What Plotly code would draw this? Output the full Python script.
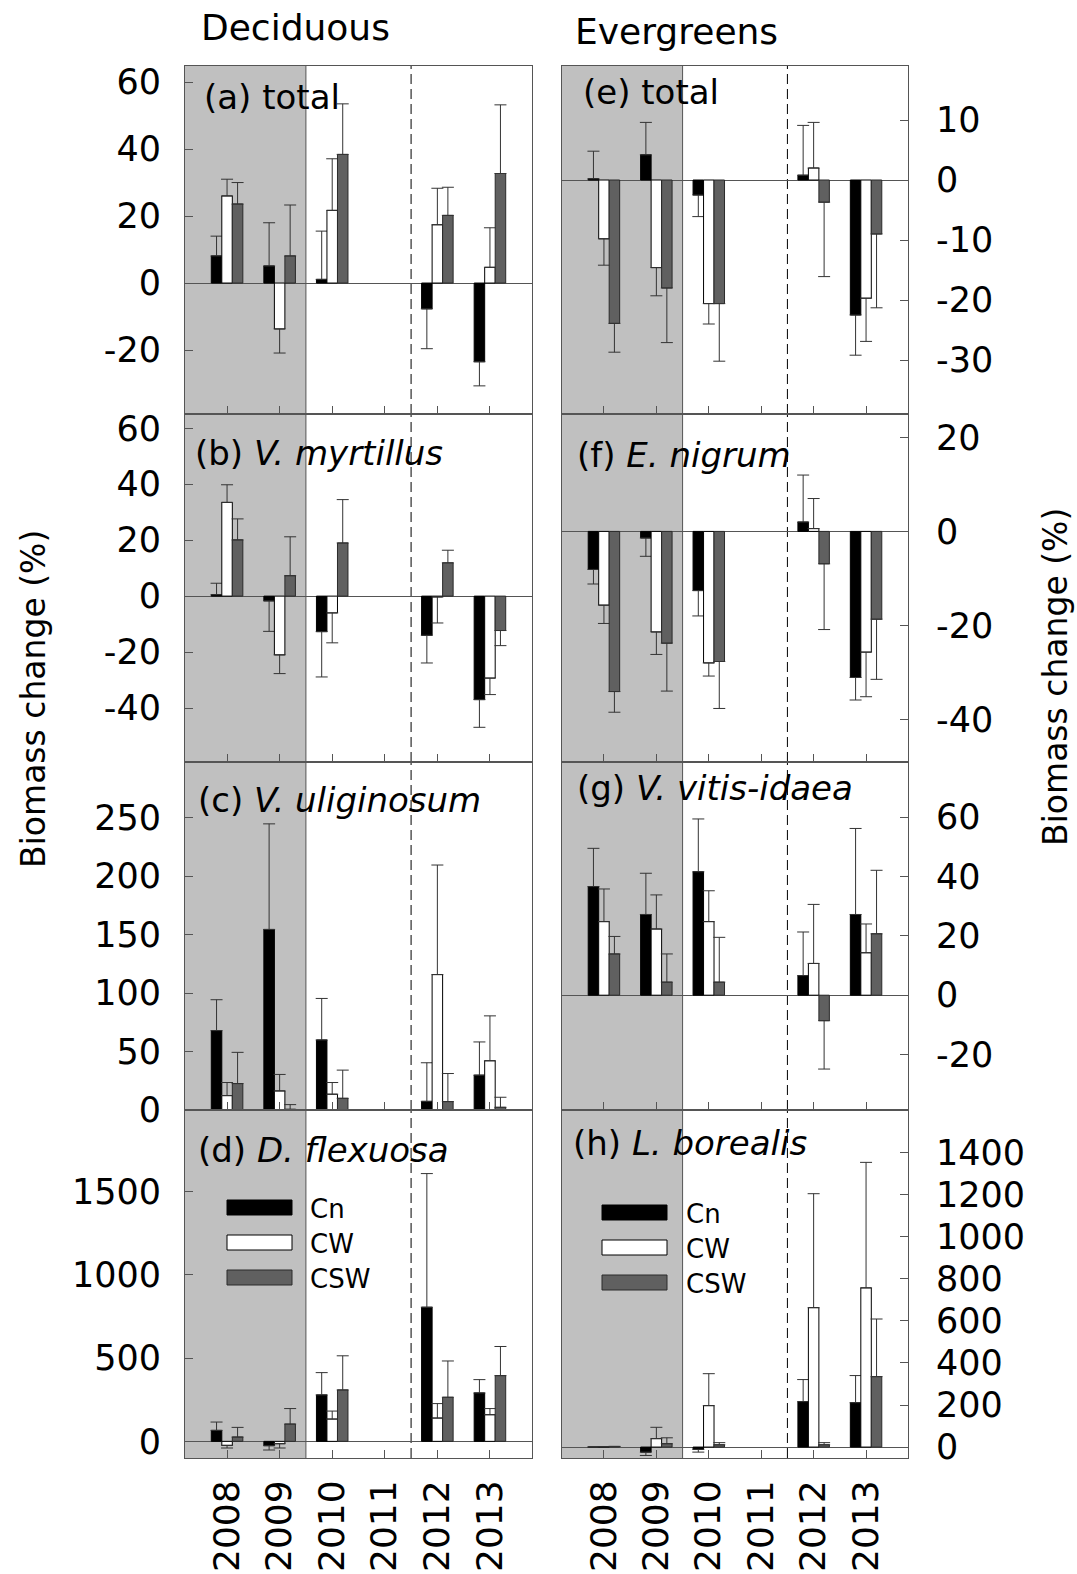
import plotly.graph_objects as go

# ---------------- data ----------------
years = ["2008", "2009", "2010", "2011", "2012", "2013"]
treatments = ["Cn", "CW", "CSW"]

# Deciduous
a_cn = [8.1, 5.1, 1.1, None, -7.7, -23.5]
a_cn_se = [5.9, 12.9, 14.4, None, 11.9, 7.2]
a_cw = [26.0, -13.7, 21.7, None, 17.4, 4.7]
a_cw_se = [5.0, 7.2, 15.4, None, 10.9, 11.8]
a_csw = [23.6, 8.1, 38.4, None, 20.2, 32.7]
a_csw_se = [6.4, 15.2, 15.1, None, 8.4, 20.5]

b_cn = [0.5, -1.7, -12.7, None, -14.0, -37.0]
b_cn_se = [4.1, 10.9, 16.2, None, 9.9, 9.9]
b_cw = [33.5, -21.0, -6.0, None, -0.3, -29.3]
b_cw_se = [6.3, 6.7, 10.7, None, 9.3, 5.9]
b_csw = [20.1, 7.3, 19.0, None, 11.9, -12.3]
b_csw_se = [7.5, 13.9, 15.5, None, 4.5, 5.4]

c_cn = [67.9, 154.4, 59.9, None, 7.4, 29.8]
c_cn_se = [26.4, 90.3, 35.5, None, 33.0, 28.4]
c_cw = [12.3, 16.3, 13.5, None, 115.8, 42.1]
c_cw_se = [11.2, 14.1, 10.0, None, 93.7, 38.4]
c_csw = [22.6, 0.6, 10.0, None, 7.2, 2.3]
c_csw_se = [26.7, 4.0, 24.1, None, 24.0, 8.6]

d_cn = [66, -26, 279, None, 806, 291]
d_cn_se = [50, 26, 134, None, 803, 80]
d_cw = [-24, -14, 134, None, 140, 160]
d_cw_se = [16, 26, 48, None, 87, 37]
d_csw = [26, 104, 309, None, 265, 395]
d_csw_se = [58, 93, 205, None, 218, 175]

# Evergreens
e_cn = [0.2, 4.2, -2.5, None, 0.8, -22.5]
e_cn_se = [4.6, 5.4, 3.6, None, 8.3, 6.7]
e_cw = [-9.8, -14.6, -20.6, None, 2.0, -19.7]
e_cw_se = [4.4, 4.7, 3.4, None, 7.6, 7.2]
e_csw = [-23.9, -18.0, -20.6, None, -3.7, -9.0]
e_csw_se = [4.8, 9.1, 9.6, None, 12.4, 12.3]

f_cn = [-8.1, -1.4, -12.6, None, 2.0, -31.1]
f_cn_se = [3.1, 3.9, 5.4, None, 10.0, 4.8]
f_cw = [-15.7, -21.4, -28.0, None, 0.6, -25.7]
f_cw_se = [3.9, 4.8, 2.8, None, 6.4, 9.5]
f_csw = [-34.1, -23.8, -27.7, None, -6.9, -18.7]
f_csw_se = [4.4, 10.2, 10.0, None, 14.0, 12.8]

g_cn = [36.6, 27.2, 41.6, None, 6.6, 27.2]
g_cn_se = [12.9, 13.9, 17.8, None, 14.7, 29.0]
g_cw = [24.8, 22.3, 24.8, None, 10.7, 14.3]
g_cw_se = [11.0, 11.5, 10.4, None, 19.9, 9.7]
g_csw = [13.9, 4.4, 4.4, None, -8.6, 20.7]
g_csw_se = [5.9, 9.5, 15.1, None, 16.3, 21.4]

h_cn = [0, -24, -11, None, 216, 211]
h_cn_se = [0, 16, 13, None, 105, 129]
h_cw = [2, 40, 197, None, 663, 757]
h_cw_se = [0, 54, 152, None, 542, 597]
h_csw = [3, 16, 11, None, 11, 335]
h_csw_se = [0, 28, 10, None, 10, 274]

# tick values per panel
a_ticks = [-20, 0, 20, 40, 60]
b_ticks = [-40, -20, 0, 20, 40, 60]
c_ticks = [0, 50, 100, 150, 200, 250]
d_ticks = [0, 500, 1000, 1500]
e_ticks = [-30, -20, -10, 0, 10]
f_ticks = [-40, -20, 0, 20]
g_ticks = [-20, 0, 20, 40, 60]
h_ticks = [0, 200, 400, 600, 800, 1000, 1200, 1400]

panel_labels = ["(a) total", "(b) <i>V. myrtillus</i>", "(c) <i>V. uliginosum</i>",
                "(d) <i>D. flexuosa</i>", "(e) total", "(f) <i>E. nigrum</i>",
                "(g) <i>V. vitis-idaea</i>", "(h) <i>L. borealis</i>"]
group_titles = ["Deciduous", "Evergreens"]
y_title = "Biomass change (%)"

panels = [
    ((a_cn, a_cn_se), (a_cw, a_cw_se), (a_csw, a_csw_se), a_ticks, [-39.1, 64.8]),
    ((b_cn, b_cn_se), (b_cw, b_cw_se), (b_csw, b_csw_se), b_ticks, [-59.3, 65.1]),
    ((c_cn, c_cn_se), (c_cw, c_cw_se), (c_csw, c_csw_se), c_ticks, [0, 297.6]),
    ((d_cn, d_cn_se), (d_cw, d_cw_se), (d_csw, d_csw_se), d_ticks, [-100, 1991]),
    ((e_cn, e_cn_se), (e_cw, e_cw_se), (e_csw, e_csw_se), e_ticks, [-39, 19]),
    ((f_cn, f_cn_se), (f_cw, f_cw_se), (f_csw, f_csw_se), f_ticks, [-49.1, 25]),
    ((g_cn, g_cn_se), (g_cw, g_cw_se), (g_csw, g_csw_se), g_ticks, [-38.7, 78.6]),
    ((h_cn, h_cn_se), (h_cw, h_cw_se), (h_csw, h_csw_se), h_ticks, [-52, 1603]),
]

# ---------------- styling ----------------
W, H = 1077, 1574
FONT = "DejaVu Sans"
fill_colors = ["#000000", "#ffffff", "#606060"]
edge_colors = ["#000000", "#000000", "#2a2a2a"]
err_color = "#333333"
frame_color = "#555555"
shade_color = "#c0c0c0"
col_px = [(185, 532), (562, 908)]
row_px = [(66, 414), (414, 762), (762, 1110), (1110, 1458)]
label_pos = [(202, 97), (193, 453), (196, 800), (196, 1150),
             (581, 92), (575, 455), (575, 788), (571, 1143)]

shaded_years = ["2008", "2009"]
dashed_after = "2011"

fig = go.Figure()
layout = dict(width=W, height=H, margin=dict(l=0, r=0, t=0, b=0, autoexpand=False),
              paper_bgcolor="white", plot_bgcolor="white",
              barmode="group", bargap=0.4, bargroupgap=0,
              showlegend=False, font=dict(family=FONT, color="black"))
shapes = []
annotations = []

for k, (s1, s2, s3, ticks, yr) in enumerate(panels):
    n = k + 1
    col = k // 4
    row = k % 4
    xname = "x" if n == 1 else f"x{n}"
    yname = "y" if n == 1 else f"y{n}"
    for (vals, se), name, fc, ec in zip((s1, s2, s3), treatments, fill_colors, edge_colors):
        up = [(s if (v is not None and v >= 0) else 0) if s is not None else 0 for v, s in zip(vals, se)]
        dn = [(s if (v is not None and v < 0) else 0) if s is not None else 0 for v, s in zip(vals, se)]
        fig.add_trace(go.Bar(
            x=years, y=vals, name=name, xaxis=xname, yaxis=yname,
            marker=dict(color=fc, line=dict(color=ec, width=1)),
            error_y=dict(type="data", symmetric=False, array=up, arrayminus=dn,
                         color=err_color, thickness=1, width=6),
        ))
    x0, x1 = col_px[col]
    y0, y1 = row_px[row]
    layout[f"xaxis{n}"] = dict(
        domain=[x0 / W, x1 / W], anchor=yname, type="category", automargin=False,
        categoryorder="array", categoryarray=years,
        range=[-0.8, len(years) - 0.2],
        showgrid=False, zeroline=False, showline=True, mirror=True,
        linecolor=frame_color, linewidth=1,
        ticks="inside", ticklen=8, tickcolor=frame_color, tickwidth=1,
        showticklabels=(row == 3), tickangle=-90, ticklabelstandoff=7,
        tickfont=dict(family=FONT, size=36, color="black"),
    )
    layout[f"yaxis{n}"] = dict(
        domain=[1 - y1 / H, 1 - y0 / H], anchor=xname, automargin=False,
        side="left" if col == 0 else "right",
        range=yr, tickmode="array", tickvals=ticks, ticktext=[str(t) for t in ticks],
        showgrid=False, zeroline=True, zerolinecolor=frame_color, zerolinewidth=1,
        showline=True, mirror=True, linecolor=frame_color, linewidth=1,
        ticks="inside", ticklen=8, tickcolor=frame_color, tickwidth=1,
        ticklabelstandoff=16 if col == 0 else 20,
        tickfont=dict(family=FONT, size=35, color="black"),
    )
    # shaded period and dashed separator
    shapes.append(dict(type="rect", xref=xname, yref=f"{yname} domain",
                       x0=-0.8, x1=len(shaded_years) - 0.5, y0=0, y1=1,
                       fillcolor=shade_color, line=dict(width=0), layer="below"))
    shapes.append(dict(type="line", xref=xname, yref=f"{yname} domain",
                       x0=years.index(dashed_after) + 0.5, x1=years.index(dashed_after) + 0.5,
                       y0=0, y1=1, line=dict(color="black", width=1, dash="10px,5px"),
                       layer="below"))
    # vertical boundary of shaded period
    shapes.append(dict(type="line", xref=xname, yref=f"{yname} domain",
                       x0=len(shaded_years) - 0.5, x1=len(shaded_years) - 0.5,
                       y0=0, y1=1, line=dict(color=frame_color, width=1), layer="below"))
    lx, ly = label_pos[k]
    annotations.append(dict(text=panel_labels[k], xref="paper", yref="paper",
                            x=lx / W, y=1 - ly / H, xanchor="left", yanchor="middle",
                            showarrow=False, font=dict(family=FONT, size=34, color="black")))

# group titles
annotations.append(dict(text=group_titles[0], xref="paper", yref="paper", x=199 / W, y=1 - 28 / H,
                        xanchor="left", yanchor="middle", showarrow=False,
                        font=dict(family=FONT, size=36, color="black")))
annotations.append(dict(text=group_titles[1], xref="paper", yref="paper", x=573 / W, y=1 - 32 / H,
                        xanchor="left", yanchor="middle", showarrow=False,
                        font=dict(family=FONT, size=36, color="black")))
# y-axis titles
annotations.append(dict(text=y_title, xref="paper", yref="paper", x=33 / W, y=1 - 699 / H,
                        xanchor="center", yanchor="middle", textangle=-90, showarrow=False,
                        font=dict(family=FONT, size=33, color="black")))
annotations.append(dict(text=y_title, xref="paper", yref="paper", x=1055 / W, y=1 - 677 / H,
                        xanchor="center", yanchor="middle", textangle=-90, showarrow=False,
                        font=dict(family=FONT, size=33, color="black")))

# legends (panels d and h)
for (rx0, rx1, tx, ys) in [(227, 292, 308, [1200, 1235, 1270]),
                           (602, 667, 684, [1205, 1240, 1275])]:
    for name, fc, ec, yy in zip(treatments, fill_colors, edge_colors, ys):
        shapes.append(dict(type="rect", xref="paper", yref="paper",
                           x0=rx0 / W, x1=rx1 / W, y0=1 - yy / H, y1=1 - (yy + 15) / H,
                           fillcolor=fc, line=dict(color=ec, width=1), layer="above"))
        annotations.append(dict(text=name, xref="paper", yref="paper", x=tx / W,
                                y=1 - (yy + 9) / H, xanchor="left", yanchor="middle",
                                showarrow=False, font=dict(family=FONT, size=26, color="black")))

layout["shapes"] = shapes
layout["annotations"] = annotations
fig.update_layout(**layout)
fig.write_html("out.html")
